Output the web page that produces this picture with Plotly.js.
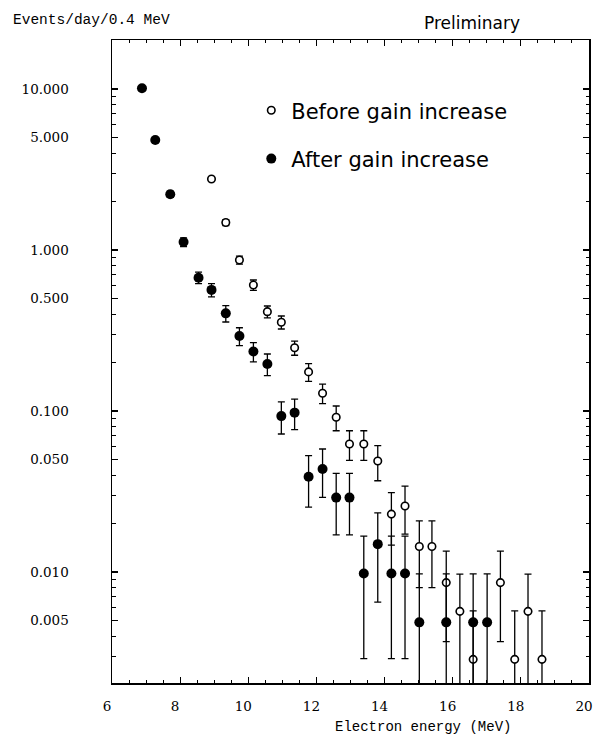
<!DOCTYPE html>
<html>
<head>
<meta charset="utf-8">
<script src="https://cdn.plot.ly/plotly-3.0.1.min.js"></script>
<style>html,body{margin:0;padding:0;background:#fff}#chart{width:595px;height:737px}</style>
</head>
<body>
<div id="chart"></div>
<script>
// Electron energy (MeV) bin centres and rates (events/day/0.4 MeV)
var energyBefore = [8.92, 9.34, 9.74, 10.15, 10.56, 10.97, 11.36, 11.77, 12.18, 12.58, 12.97, 13.39, 13.80, 14.20, 14.60, 15.02, 15.39, 15.81, 16.21, 16.60, 17.40, 17.82, 18.21, 18.62];
var rateBefore   = [2.76, 1.48, 0.867, 0.606, 0.414, 0.356, 0.247, 0.175, 0.129, 0.0914, 0.0624, 0.0624, 0.0489, 0.0229, 0.0257, 0.0144, 0.0144, 0.0086, 0.0057, 0.00287, 0.0086, 0.00287, 0.0057, 0.00287];
var errBefore    = [0.09, 0.065, 0.05, 0.045, 0.035, 0.033, 0.025, 0.022, 0.018, 0.016, 0.013, 0.013, 0.012, 0.0082, 0.0085, 0.0064, 0.0064, 0.0049, 0.0040, 0.00287, 0.0049, 0.00287, 0.0040, 0.00287];

var energyAfter  = [6.88, 7.27, 7.71, 8.10, 8.54, 8.92, 9.34, 9.74, 10.15, 10.56, 10.97, 11.36, 11.77, 12.18, 12.58, 12.97, 13.39, 13.80, 14.20, 14.60, 15.02, 15.81, 16.60, 17.01];
var rateAfter    = [10.1, 4.82, 2.22, 1.12, 0.673, 0.565, 0.404, 0.292, 0.234, 0.196, 0.093, 0.0977, 0.0391, 0.0436, 0.029, 0.029, 0.0098, 0.0149, 0.0098, 0.0098, 0.00487, 0.00487, 0.00487, 0.00487];
var errAfter     = [0.22, 0.15, 0.10, 0.07, 0.055, 0.053, 0.047, 0.037, 0.032, 0.030, 0.021, 0.021, 0.0138, 0.0145, 0.012, 0.012, 0.0069, 0.0084, 0.0069, 0.0069, 0.00487, 0.00487, 0.00487, 0.00487];

var seriesNames = ['Before gain increase', 'After gain increase'];

var yTickVals  = [0.005, 0.01, 0.05, 0.1, 0.5, 1, 5, 10];
var yTickText  = ['0.005', '0.010', '0.050', '0.100', '0.500', '1.000', '5.000', '10.000'];
var xTickVals  = [6, 8, 10, 12, 14, 16, 18, 20];
var xTickText  = ['6', '8', '10', '12', '14', '16', '18', '20'];

var yMinorVals = [];
[0.001, 0.01, 0.1, 1, 10].forEach(function (d) {
  for (var k = 2; k <= 9; k++) yMinorVals.push(d * k);
});

var errStyle = {type: 'data', symmetric: true, color: '#000', thickness: 1.3, width: 3.5};

var traces = [
  {
    x: energyBefore, y: rateBefore, name: seriesNames[0], legendgroup: 'a',
    type: 'scatter', mode: 'markers',
    marker: {symbol: 'circle', size: 7.5, color: '#fff', line: {color: '#000', width: 1.6}},
    error_y: Object.assign({array: errBefore}, errStyle)
  },
  {
    x: energyAfter, y: rateAfter, name: seriesNames[1], legendgroup: 'b',
    type: 'scatter', mode: 'markers',
    marker: {symbol: 'circle', size: 10, color: '#000', line: {color: '#000', width: 0}},
    error_y: Object.assign({array: errAfter}, errStyle)
  }
];

var tickFont = {family: 'DejaVu Serif', size: 13.5, color: '#000'};

var layout = {
  width: 595, height: 737,
  margin: {l: 112, r: 6, t: 40, b: 54},
  paper_bgcolor: '#fff', plot_bgcolor: '#fff',
  showlegend: true,
  legend: {
    x: 0.292, y: 0.922, xanchor: 'left', yanchor: 'top',
    bgcolor: 'rgba(0,0,0,0)', borderwidth: 0,
    traceorder: 'grouped', tracegroupgap: 18,
    font: {family: 'DejaVu Sans', size: 21, color: '#000'}
  },
  xaxis: {
    range: [6, 20], tickmode: 'array', tickvals: xTickVals, ticktext: xTickText,
    ticks: 'inside', ticklen: 6, tickwidth: 1.2, tickcolor: '#000',
    showline: true, linecolor: '#000', linewidth: 1.5, mirror: 'allticks',
    showgrid: false, zeroline: false,
    tickfont: tickFont, ticklabelshift: -5, ticklabelstandoff: 10,
    minor: {dtick: 0.5, tick0: 6, ticks: 'inside', ticklen: 3, tickwidth: 1, tickcolor: '#000', showgrid: false}
  },
  yaxis: {
    type: 'log', range: [-2.689, 1.304],
    tickmode: 'array', tickvals: yTickVals, ticktext: yTickText,
    ticks: 'inside', ticklen: 6, tickwidth: 1.2, tickcolor: '#000',
    showline: true, linecolor: '#000', linewidth: 1.5, mirror: 'allticks',
    showgrid: false, zeroline: false,
    tickfont: tickFont, ticklabelstandoff: 39,
    minor: {tickmode: 'array', tickvals: yMinorVals, ticks: 'inside', ticklen: 3.5, tickwidth: 1, tickcolor: '#000', showgrid: false}
  },
  annotations: [
    {text: 'Events/day/0.4 MeV', xref: 'paper', yref: 'paper', x: -0.211, y: 1.031,
     xanchor: 'left', yanchor: 'middle', showarrow: false,
     font: {family: 'Liberation Mono', size: 14.5, color: '#000'}},
    {text: 'Preliminary', xref: 'paper', yref: 'paper', x: 0.755, y: 1.026,
     xanchor: 'center', yanchor: 'middle', showarrow: false,
     font: {family: 'DejaVu Sans', size: 17, color: '#000'}},
    {text: 'Electron energy (MeV)', xref: 'paper', yref: 'paper', x: 0.652, y: -0.069,
     xanchor: 'center', yanchor: 'middle', showarrow: false,
     font: {family: 'Liberation Mono', size: 14, color: '#000'}}
  ]
};

Plotly.newPlot('chart', traces, layout, {staticPlot: true, displayModeBar: false});
</script>
</body>
</html>
